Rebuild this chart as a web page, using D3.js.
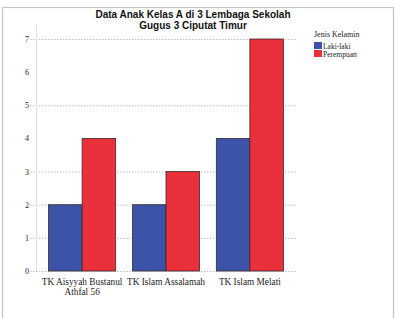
<!DOCTYPE html>
<html>
  <head>
    <script src="https://d3js.org/d3.v7.min.js"></script>
    <style>
      body { margin: 0; background: #fff; }
      .tick-label, .x-label, .legend text { font-family: "Liberation Serif", "DejaVu Serif", serif; fill: #222; }
      .title { font-family: "Liberation Sans", Arial, sans-serif; font-weight: bold; font-size: 10px; fill: #111; }
    </style>
  </head>
  <body>
    <svg id="chart" width="396" height="318"></svg>
    <script>
      const schools = [["TK Aisyyah Bustanul", "Athfal 56"], ["TK Islam Assalamah"], ["TK Islam Melati"]];
      const series = ["Laki-laki", "Perempuan"];
      const lakiLaki = [2, 2, 4];
      const perempuan = [4, 3, 7];
      const yTicks = [0, 1, 2, 3, 4, 5, 6, 7];
      const gridTicks = [0, 1, 2, 3, 5, 7];
      const colors = ["#3b53a9", "#e9303b"];

      const svg = d3.select("#chart");

      // frame round the whole picture
      svg.append("rect")
        .attr("x", 2.5).attr("y", 7.5).attr("width", 391).attr("height", 320)
        .attr("fill", "none").attr("stroke", "#c4c4c4").attr("stroke-width", 1.2);

      const x0 = d3.scaleBand().domain(d3.range(schools.length)).range([36, 296])
        .paddingInner(0.2).paddingOuter(0.15);
      const x1 = d3.scaleBand().domain(series).range([0, x0.bandwidth()]);
      const y = d3.scaleLinear().domain([0, 7]).range([271, 39]);

      // grid lines
      svg.append("g")
        .selectAll("line")
        .data(gridTicks)
        .join("line")
        .attr("x1", 30).attr("x2", 296)
        .attr("y1", d => y(d) + 0.5).attr("y2", d => y(d) + 0.5)
        .attr("stroke", "#bcbcbc").attr("stroke-dasharray", "1.5,1.5");

      // y axis line
      svg.append("line")
        .attr("x1", 36.5).attr("x2", 36.5).attr("y1", 25).attr("y2", y(0))
        .attr("stroke", "#dedede");

      svg.append("g")
        .selectAll("text")
        .data(yTicks)
        .join("text")
        .attr("class", "tick-label")
        .attr("x", 29).attr("y", d => y(d) + 3)
        .attr("text-anchor", "end")
        .attr("font-size", "8px")
        .text(d => d);

      const rows = schools.map((s, i) => ({ i, vals: [lakiLaki[i], perempuan[i]] }));

      svg.append("g")
        .selectAll("g")
        .data(rows)
        .join("g")
        .attr("transform", d => "translate(" + x0(d.i) + ",0)")
        .selectAll("rect")
        .data(d => d.vals.map((v, k) => ({ k, v })))
        .join("rect")
        .attr("x", d => x1(series[d.k]))
        .attr("y", d => y(d.v))
        .attr("width", x1.bandwidth())
        .attr("height", d => y(0) - y(d.v))
        .attr("fill", d => colors[d.k])
        .attr("stroke", "#3a2a2a")
        .attr("stroke-width", 0.8);

      // x labels
      svg.append("g")
        .selectAll("text")
        .data(schools)
        .join("text")
        .attr("class", "x-label")
        .attr("font-size", "9.3px")
        .attr("text-anchor", "middle")
        .attr("x", (d, i) => x0(i) + x0.bandwidth() / 2)
        .attr("y", 285)
        .selectAll("tspan")
        .data(d => d)
        .join("tspan")
        .attr("x", function () { return d3.select(this.parentNode).attr("x"); })
        .attr("dy", (d, i) => (i === 0 ? 0 : 9.5))
        .text(d => d);

      // title
      svg.append("text").attr("class", "title")
        .attr("x", 193).attr("y", 18).attr("text-anchor", "middle")
        .text("Data Anak Kelas A di 3 Lembaga Sekolah");
      svg.append("text").attr("class", "title")
        .attr("x", 193).attr("y", 29).attr("text-anchor", "middle")
        .text("Gugus 3 Ciputat Timur");

      // legend
      const legend = svg.append("g").attr("class", "legend").attr("transform", "translate(314,37)");
      legend.append("text").attr("x", 0).attr("y", 0).attr("font-size", "8px").text("Jenis Kelamin");
      const items = legend.selectAll("g.item")
        .data(series)
        .join("g")
        .attr("class", "item")
        .attr("transform", (d, i) => "translate(0," + (5 + i * 8) + ")");
      items.append("rect").attr("width", 8).attr("height", 7).attr("fill", (d, i) => colors[i]);
      items.append("text").attr("x", 9).attr("y", 6.5).attr("font-size", "7.5px").text(d => d);
    </script>
  </body>
</html>
